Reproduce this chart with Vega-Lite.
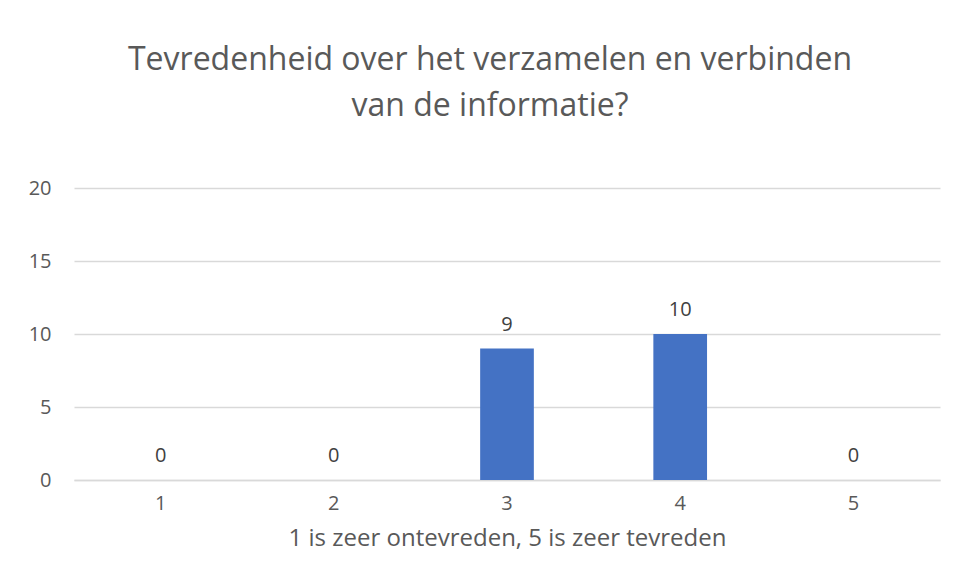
{
  "$schema": "https://vega.github.io/schema/vega-lite/v6.json",
  "autosize": "none",
  "width": 866,
  "height": 292,
  "padding": {"left": 74, "top": 188, "right": 17, "bottom": 103},
  "background": "white",
  "config": {
    "view": {"stroke": null},
    "font": "Open Sans"
  },
  "title": {
    "text": ["Tevredenheid over het verzamelen en verbinden", "van de informatie?"],
    "fontSize": 32,
    "fontWeight": "normal",
    "color": "#595959",
    "font": "Open Sans",
    "anchor": "middle",
    "dx": -17,
    "lineHeight": 46,
    "offset": 55
  },
  "data": {
    "values": [
      {"score": "1", "count": 0},
      {"score": "2", "count": 0},
      {"score": "3", "count": 9},
      {"score": "4", "count": 10},
      {"score": "5", "count": 0}
    ]
  },
  "encoding": {
    "x": {
      "field": "score",
      "type": "ordinal",
      "scale": {"paddingInner": 0.69, "paddingOuter": 0.345},
      "axis": {
        "title": "1 is zeer ontevreden, 5 is zeer tevreden",
        "titleFontSize": 24,
        "titleFontWeight": "normal",
        "titleColor": "#595959",
        "titlePadding": 13,
        "labelAngle": 0,
        "labelFontSize": 20,
        "labelColor": "#595959",
        "labelPadding": 13,
        "ticks": false,
        "domainColor": "#d9d9d9",
        "domainWidth": 1.5
      }
    },
    "y": {
      "field": "count",
      "type": "quantitative",
      "scale": {"domain": [0, 20]},
      "axis": {
        "title": null,
        "values": [0, 5, 10, 15, 20],
        "labelFontSize": 20,
        "labelColor": "#595959",
        "labelPadding": 23,
        "ticks": false,
        "domain": false,
        "gridColor": "#d9d9d9",
        "gridWidth": 1.5
      }
    }
  },
  "layer": [
    {"mark": {"type": "bar", "color": "#4472c4"}},
    {
      "mark": {"type": "text", "baseline": "alphabetic", "dy": -18, "fontSize": 20, "color": "#404040"},
      "encoding": {"text": {"field": "count", "type": "quantitative"}}
    }
  ]
}
